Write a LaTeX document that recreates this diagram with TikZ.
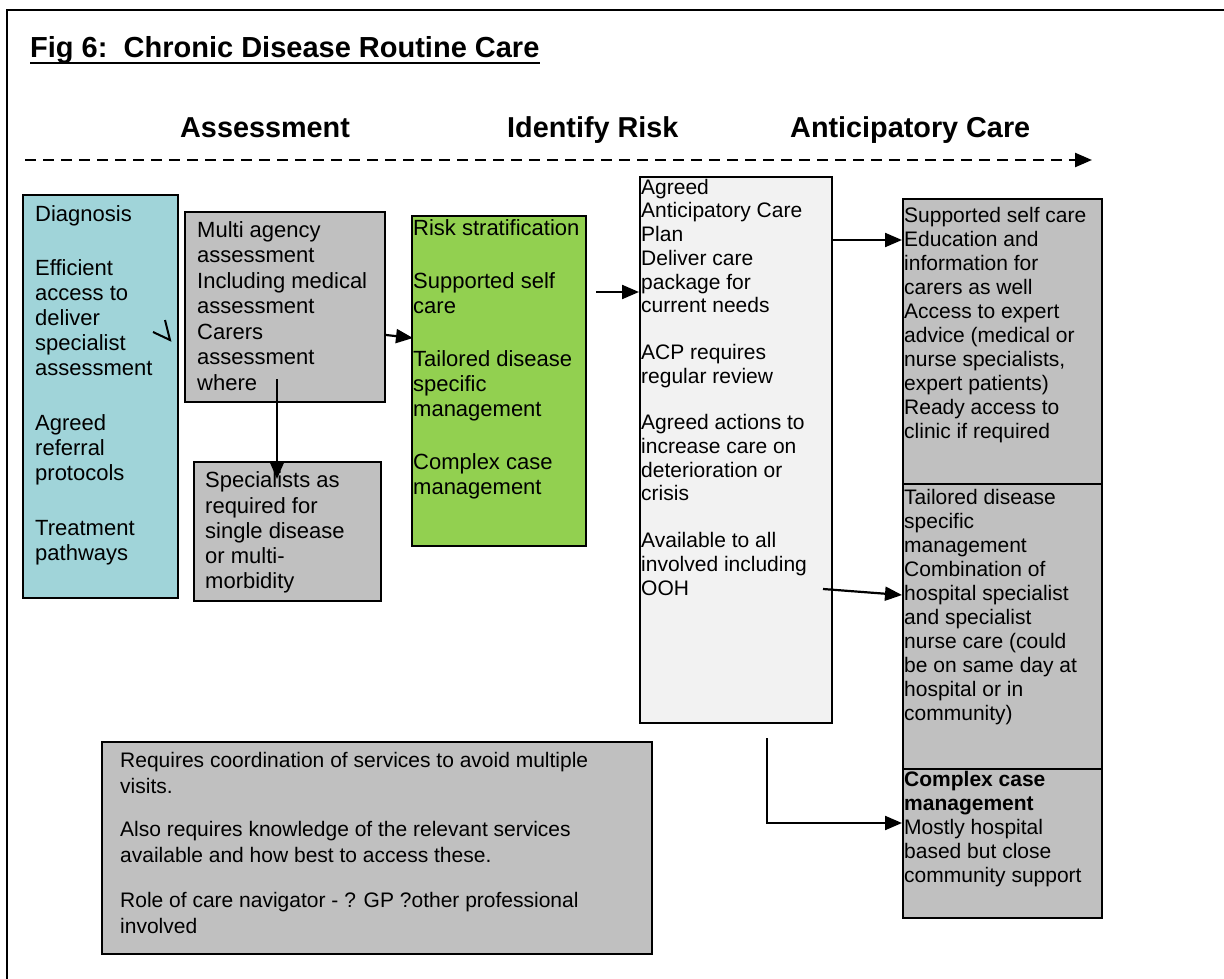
\documentclass[tikz,border=0pt]{standalone}
\usepackage{fontspec}
\setmainfont{Liberation Sans}
\usetikzlibrary{arrows.meta}
\definecolor{cyanfill}{HTML}{A0D4D9}
\definecolor{grayfill}{HTML}{C0C0C0}
\definecolor{greenfill}{HTML}{92D050}
\definecolor{acpfill}{HTML}{F2F2F2}
\newcommand{\fsz}[2]{\fontsize{#1}{#2}\selectfont}
\tikzset{
  box/.style={draw=black, line width=2pt, inner sep=0pt, anchor=north west},
  txt/.style={anchor=north west, inner sep=0pt, align=left},
  conn/.style={line width=2.2pt, -{Triangle[length=17pt,width=14pt]}},
  heading/.style={anchor=base west, inner sep=0pt, font=\fsz{28.8}{33}\bfseries},
  timeline/.style={line width=2.4pt, dash pattern=on 11pt off 7pt, -{Triangle[length=17pt,width=14pt]}}
}
\begin{document}
\begin{tikzpicture}[x=1pt,y=-1pt]
\useasboundingbox (0,0) rectangle (1224,979);
\fill[white] (0,0) rectangle (1224,979);
% frame
\draw[line width=2.8pt] (1224,10) -- (7,10) -- (7,979);
% title
\node[anchor=base west, inner sep=0pt, font=\fsz{29}{33}\bfseries] (title) at (30,58) {Fig 6:\ \ Chronic Disease Routine Care};
\draw[line width=2.8pt] ([yshift=-5pt]title.base west) -- ([yshift=-5pt]title.base east);
% headings
\node[heading] (hA) at (180,138) {Assessment};
\node[heading] (hI) at (507,138) {Identify Risk};
\node[heading] (hC) at (790,138) {Anticipatory Care};
\coordinate (tl0) at (25,160);
\coordinate (tl1) at (1092,160);
\draw[timeline] (tl0) -- (tl1);

% boxes
\node[box, fill=cyanfill, minimum width=155pt, minimum height=403pt] (diag) at (22,194) {};
\node[box, fill=grayfill, minimum width=200pt, minimum height=190pt] (multi) at (184,211) {};
\node[box, fill=grayfill, minimum width=187pt, minimum height=139pt] (spec) at (193,461) {};
\node[box, fill=greenfill, minimum width=174pt, minimum height=330pt] (green) at (411,215) {};
\node[box, fill=acpfill, minimum width=192pt, minimum height=546pt] (acp) at (639,176) {};
\node[box, fill=grayfill, minimum width=199pt, minimum height=285pt] (r1) at (902,198) {};
\node[box, fill=grayfill, minimum width=199pt, minimum height=285pt] (r2) at (902,483) {};
\node[box, fill=grayfill, minimum width=199pt, minimum height=149pt] (r3) at (902,768) {};
\node[box, fill=grayfill, minimum width=550pt, minimum height=212pt] (note) at (101,741) {};

% texts
\node[txt, font=\fsz{22}{25}] (diagT) at (35,203.5) {\strut Diagnosis\\[29pt]Efficient\\access to\\deliver\\specialist\\assessment\\[30pt]Agreed\\referral\\protocols\\[30pt]Treatment\\pathways};
\node[txt, font=\fsz{22}{25.5}] (multiT) at (197,219) {\strut Multi agency\\assessment\\Including medical\\assessment\\Carers\\assessment\\where};
\begin{scope}
\clip (spec.north west) rectangle (spec.south east);
\node[txt, font=\fsz{22}{25.2}] (specT) at (205,470) {\strut Specialists as\\required for\\single disease\\or multi-\\morbidity};
\end{scope}
\node[txt, font=\fsz{22}{25}] (greenT) at (413,217.5) {\strut Risk stratification\\[28pt]Supported self\\care\\[28pt]Tailored disease\\specific\\management\\[28pt]Complex case\\management};
\node[txt, font=\fsz{21}{23.7}] (acpT) at (641,177.5) {\strut Agreed\\Anticipatory Care\\Plan\\Deliver care\\package for\\current needs\\[23pt]ACP requires\\regular review\\[23pt]Agreed actions to\\increase care on\\deterioration or\\crisis\\[23pt]Available to all\\involved including\\OOH};
\node[txt, font=\fsz{21}{24}] (r1T) at (904,205.2) {\strut Supported self care\\Education and\\information for\\carers as well\\Access to expert\\advice (medical or\\nurse specialists,\\expert patients)\\Ready access to\\clinic if required};
\node[txt, font=\fsz{21}{24}] (r2T) at (904,487.2) {\strut Tailored disease\\specific\\management\\Combination of\\hospital specialist\\and specialist\\nurse care (could\\be on same day at\\hospital or in\\community)};
\node[txt, font=\fsz{21}{24}] (r3T) at (904,769.2) {\strut\textbf{Complex case}\\\textbf{management}\\Mostly hospital\\based but close\\community support};
\node[txt, font=\fsz{21}{26}] (noteT) at (120,749) {\strut Requires coordination of services to avoid multiple\\visits.\\[17pt]Also requires knowledge of the relevant services\\available and how best to access these.\\[19pt]Role of care navigator - ? GP ?other professional\\involved};

% small open arrowhead in diagnosis box
\draw[line width=2pt, line join=miter] ([xshift=-14pt,yshift=76.5pt]diag.east) -- ([xshift=-9pt,yshift=56.5pt]diag.east) -- ([xshift=-26pt,yshift=64.5pt]diag.east);

% connectors
\draw[conn] ([yshift=-28pt]multi.east) -- ([xshift=2pt,yshift=43pt]green.west);
\draw[conn] ([xshift=-8pt,yshift=24pt]multi.south) -- ([xshift=-10.5pt,yshift=-18pt]spec.north);
\draw[conn] ([xshift=9pt,yshift=89pt]green.east) -- ([yshift=158pt]acp.west);
\draw[conn] ([yshift=210pt]acp.east) -- ([yshift=101.5pt]r1.west);
\draw[conn] ([xshift=-10pt,yshift=-139pt]acp.east) -- ([yshift=31.5pt]r2.west);
\coordinate (lstart) at ([xshift=31pt,yshift=-14pt]acp.south);
\draw[conn] (lstart) |- ([yshift=20.5pt]r3.west);
\end{tikzpicture}
\end{document}
